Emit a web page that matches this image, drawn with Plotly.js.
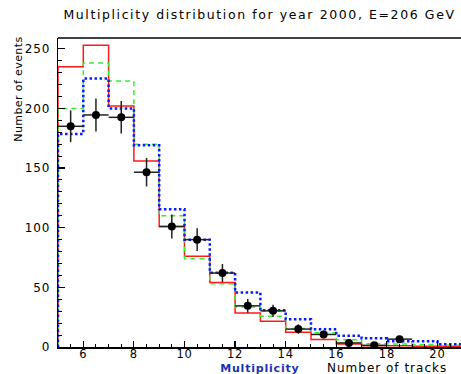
<!DOCTYPE html>
<html>
<head>
<meta charset="utf-8">
<script src="https://cdn.plot.ly/plotly-3.0.1.min.js"></script>
<style>
  html, body { margin: 0; padding: 0; background: #fff; }
  #chart { width: 461px; height: 374px; }
  #chart .gtitle { letter-spacing: 1.6px; }
  #chart .annotation[data-index="0"] text { letter-spacing: 0.4px; }
  #chart .annotation[data-index="1"] text { letter-spacing: 0.8px; }
  #chart .annotation[data-index="2"] text { letter-spacing: 1.0px; }
  #chart .ytick text, #chart .xtick text { letter-spacing: 0.8px; }
</style>
</head>
<body>
<div id="chart"></div>
<script>
// Bin lower edges (number of tracks), bin width 1
var binLow = [5, 6, 7, 8, 9, 10, 11, 12, 13, 14, 15, 16, 17, 18, 19, 20];
var binWidth = 1;

// Simulation histograms
var redValues   = [235, 253, 202, 156, 101, 76, 54, 28.6, 21.6, 12.4, 6.2, 2.6, 1.1, 1.0, 0.7, 0.7];
var greenValues = [200, 238, 223, 170, 110, 74, 53, 33.6, 25.8, 15.5, 12.0, 6.0, 2.8, 2.5, 2.0, 1.5];
var blueValues  = [178.5, 225, 200, 169, 115.5, 90, 62.3, 45.7, 30.8, 23.3, 14.8, 9.5, 7.3, 4.9, 4.8, 2.4];

// Data points
var dataX   = [5.5, 6.5, 7.5, 8.5, 9.5, 10.5, 11.5, 12.5, 13.5, 14.5, 15.5, 16.5, 17.5, 18.5];
var dataY   = [185, 194.5, 192.5, 146.5, 101, 90, 62, 34.5, 30.3, 15, 10.5, 3.4, 1.4, 6.6];
var dataErr = [13.3, 13.8, 13.6, 12, 10, 9.5, 7.6, 5.8, 5.2, 4, 3.2, 1.8, 1.2, 2.5];

function stepTrace(values, color, dash, width) {
  var xs = [binLow[0]], ys = [0];
  for (var i = 0; i < binLow.length; i++) { xs.push(binLow[i]); ys.push(values[i]); }
  xs.push(binLow[binLow.length - 1] + binWidth); ys.push(values[values.length - 1]);
  return {
    x: xs, y: ys, type: 'scatter', mode: 'lines',
    line: { shape: 'hv', color: color, dash: dash, width: width },
    hoverinfo: 'skip', showlegend: false
  };
}

var traces = [
  stepTrace(redValues, '#ff1a1a', 'solid', 1.5),
  stepTrace(greenValues, '#33ee33', '5px,4px', 1.5),
  stepTrace(blueValues, '#0a1aff', '2.5px,2.5px', 2.5),
  {
    x: dataX, y: dataY, type: 'scatter', mode: 'markers',
    marker: { color: '#000', size: 8, symbol: 'circle' },
    error_y: { type: 'data', array: dataErr, visible: true, color: '#222', thickness: 1.5, width: 0 },
    error_x: { type: 'constant', value: binWidth / 2, visible: true, color: '#222', thickness: 1.5, width: 0 },
    showlegend: false
  }
];

var layout = {
  width: 461, height: 374,
  margin: { l: 58, r: 0, t: 38, b: 27 },
  paper_bgcolor: '#fff', plot_bgcolor: '#fff',
  font: { family: 'DejaVu Sans, sans-serif', color: '#000', size: 12 },
  showlegend: false,
  title: {
    text: 'Multiplicity distribution for year 2000, E=206 GeV',
    xref: 'paper', x: 0.5, xanchor: 'center',
    yref: 'container', y: 0.962, yanchor: 'middle',
    font: { size: 12.5, family: 'DejaVu Sans, sans-serif', color: '#000' }
  },
  xaxis: {
    range: [5, 20.93], showgrid: false, zeroline: false,
    showline: true, linecolor: '#000', linewidth: 1.5, mirror: false,
    ticks: 'inside', ticklen: 6, tickwidth: 1.2, tickcolor: '#000',
    tick0: 0, dtick: 2,
    minor: { dtick: 0.5, ticks: 'inside', ticklen: 3, tickcolor: '#000', tickwidth: 1 },
    tickfont: { size: 11.5, family: 'DejaVu Sans, sans-serif' },
    ticklabelstandoff: -4
  },
  yaxis: {
    range: [0, 259], showgrid: false, zeroline: false,
    showline: true, linecolor: '#000', linewidth: 1.5,
    ticks: 'inside', ticklen: 7, tickwidth: 1.2, tickcolor: '#000',
    tick0: 0, dtick: 50,
    minor: { dtick: 10, ticks: 'inside', ticklen: 4, tickcolor: '#000', tickwidth: 1 },
    tickfont: { size: 12, family: 'DejaVu Sans, sans-serif' },
    ticklabelstandoff: 4
  },
  shapes: [
    { type: 'line', xref: 'paper', yref: 'paper', x0: 0, x1: 1.01, y0: 1, y1: 1,
      line: { color: '#000', width: 1.5 } }
  ],
  annotations: [
    { text: 'Number of events', xref: 'paper', yref: 'paper', x: 0, xshift: -40, y: 1, yshift: 0,
      textangle: -90, xanchor: 'center', yanchor: 'top', showarrow: false,
      font: { size: 11, family: 'DejaVu Sans, sans-serif', color: '#000' } },
    { text: '<b>Multiplicity</b>', xref: 'paper', yref: 'paper', x: 0.5, xshift: 0, y: 0, yshift: -21,
      xanchor: 'center', yanchor: 'middle', showarrow: false,
      font: { size: 11, family: 'DejaVu Sans, sans-serif', color: '#1a33b3' } },
    { text: 'Number of tracks', xref: 'paper', yref: 'paper', x: 1, xshift: -128, y: 0, yshift: -21,
      xanchor: 'left', yanchor: 'middle', showarrow: false,
      font: { size: 12, family: 'DejaVu Sans, sans-serif', color: '#000' } }
  ]
};

Plotly.newPlot('chart', traces, layout, { staticPlot: true, displayModeBar: false });
</script>
</body>
</html>
